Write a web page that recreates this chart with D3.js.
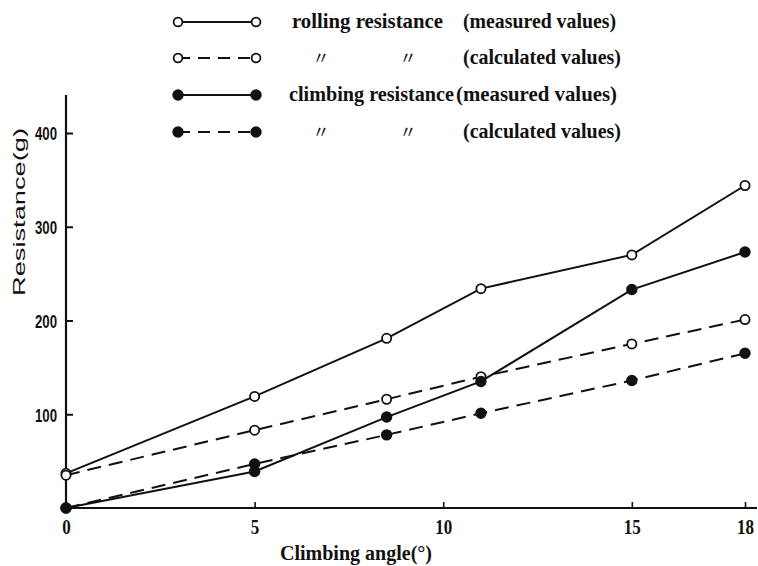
<!DOCTYPE html>
<html>
<head>
<meta charset="utf-8">
<script src="https://cdn.jsdelivr.net/npm/d3@7"></script>
<style>
  html, body { margin: 0; padding: 0; background: #fff; }
  svg { display: block; }
</style>
</head>
<body>
<svg id="chart" width="758" height="566"></svg>
<script>
// Climbing angle (degrees) at which each resistance was taken
const angles = [0, 5, 8.5, 11, 15, 18];

// Resistance in grams
const rollingMeasured   = [37, 119, 181, 234, 270, 344];
const rollingCalculated = [35, 83, 116, 140, 175, 201];
const climbingMeasured  = [0, 39, 97, 135, 233, 273];
const climbingCalculated = [0, 47, 78, 101, 136, 165];

const xTicks = [0, 5, 10, 15, 18];
const yTicks = [100, 200, 300, 400];

const seriesNames = [
  "rolling resistance",
  "\u3003",
  "climbing resistance",
  "\u3003"
];
const seriesKinds = [
  "(measured values)",
  "(calculated values)",
  "(measured values)",
  "(calculated values)"
];

const series = [
  { values: rollingMeasured,    filled: false, dashed: false },
  { values: rollingCalculated,  filled: false, dashed: true },
  { values: climbingMeasured,   filled: true,  dashed: false },
  { values: climbingCalculated, filled: true,  dashed: true }
];

const svg = d3.select("#chart");
const ink = "#111";
const serif = "'Liberation Serif', 'DejaVu Serif', serif";
const sans = "'Liberation Sans', Arial, sans-serif";

const x = d3.scaleLinear().domain([0, 18]).range([66, 745]);
const y = d3.scaleLinear().domain([0, 400]).range([508, 133]);

// Axes
const xAxis = d3.axisBottom(x).tickValues(xTicks).tickSizeInner(-6).tickSizeOuter(0).tickFormat(d3.format("d"));
const gx = svg.append("g").attr("transform", `translate(0,${y(0)})`).call(xAxis);
gx.select(".domain").remove();
gx.selectAll(".tick line").attr("stroke", ink).attr("stroke-width", 1.6);
gx.selectAll(".tick text")
  .attr("y", 26).attr("dy", null)
  .attr("fill", ink)
  .attr("textLength", d => d >= 10 ? 17 : 8.5).attr("lengthAdjust", "spacingAndGlyphs")
  .style("font-family", serif).style("font-size", "21px").style("font-weight", "bold");

svg.append("line")
  .attr("x1", x(0)).attr("x2", 757)
  .attr("y1", y(0)).attr("y2", y(0))
  .attr("stroke", ink).attr("stroke-width", 2.2);

const yAxis = d3.axisLeft(y).tickValues(yTicks).tickSizeInner(-7).tickSizeOuter(0);
const gy = svg.append("g").attr("transform", `translate(${x(0)},0)`).call(yAxis);
gy.select(".domain").remove();
gy.selectAll(".tick line").attr("stroke", ink).attr("stroke-width", 2);
gy.selectAll(".tick text")
  .attr("x", -9).attr("dy", "0.36em")
  .attr("fill", ink)
  .attr("textLength", 22).attr("lengthAdjust", "spacingAndGlyphs")
  .style("font-family", sans).style("font-size", "19px").style("font-weight", "bold");

svg.append("line")
  .attr("x1", x(0)).attr("x2", x(0))
  .attr("y1", 95).attr("y2", y(0) + 1)
  .attr("stroke", ink).attr("stroke-width", 2.2);

// Axis titles
svg.append("text")
  .attr("transform", `translate(25,212) rotate(-90)`)
  .attr("text-anchor", "middle")
  .attr("fill", ink)
  .attr("textLength", 168).attr("lengthAdjust", "spacingAndGlyphs")
  .style("font-family", sans).style("font-size", "17px")
  .text("Resistance(g)");

svg.append("text")
  .attr("x", 280).attr("y", 560)
  .attr("fill", ink)
  .attr("textLength", 152).attr("lengthAdjust", "spacingAndGlyphs")
  .style("font-family", serif).style("font-size", "20px").style("font-weight", "bold")
  .text("Climbing angle(\u00b0)");

// Series lines
const line = d3.line().x((d, i) => x(angles[i])).y(d => y(d));
const plot = svg.append("g");
series.forEach(s => {
  plot.append("path")
    .datum(s.values)
    .attr("d", line)
    .attr("fill", "none")
    .attr("stroke", ink)
    .attr("stroke-width", 2)
    .attr("stroke-dasharray", s.dashed ? "14,8" : null);
});
series.forEach(s => {
  plot.selectAll(null)
    .data(s.values)
    .join("circle")
    .attr("cx", (d, i) => x(angles[i]))
    .attr("cy", d => y(d))
    .attr("r", s.filled ? 4.8 : 4.6)
    .attr("fill", s.filled ? ink : "#fff")
    .attr("stroke", ink)
    .attr("stroke-width", 1.8);
});

// Legend
const legendRows = [22, 58, 95, 132];
const nameSpan = [[292, 151], null, [289, 165], null];
const kindSpan = [[463, 153], [463, 158], [456, 161], [463, 158]];
const legend = svg.append("g");
const textStyle = t => t
  .attr("fill", ink)
  .attr("lengthAdjust", "spacingAndGlyphs")
  .style("font-family", serif).style("font-size", "21px").style("font-weight", "bold");
series.forEach((s, i) => {
  const ly = legendRows[i];
  legend.append("line")
    .attr("x1", 178).attr("x2", 256)
    .attr("y1", ly).attr("y2", ly)
    .attr("stroke", ink).attr("stroke-width", 2)
    .attr("stroke-dasharray", s.dashed ? "12,8" : null);
  [178, 256].forEach(cx => {
    legend.append("circle")
      .attr("cx", cx).attr("cy", ly)
      .attr("r", s.filled ? 4.8 : 4.4)
      .attr("fill", s.filled ? ink : "#fff")
      .attr("stroke", ink).attr("stroke-width", 1.8);
  });
  if (nameSpan[i] === null) {
    [321, 408].forEach(tx => {
      legend.append("text")
        .attr("x", tx).attr("y", ly + 6)
        .attr("text-anchor", "middle")
        .attr("fill", ink)
        .style("font-family", "'Noto Sans CJK JP', sans-serif").style("font-size", "17px")
        .text(seriesNames[i]);
    });
  } else {
    legend.append("text")
      .attr("x", nameSpan[i][0]).attr("y", ly + 6)
      .attr("textLength", nameSpan[i][1])
      .call(textStyle)
      .text(seriesNames[i]);
  }
  legend.append("text")
    .attr("x", kindSpan[i][0]).attr("y", ly + 6)
    .attr("textLength", kindSpan[i][1])
    .call(textStyle)
    .text(seriesKinds[i]);
});
</script>
</body>
</html>
